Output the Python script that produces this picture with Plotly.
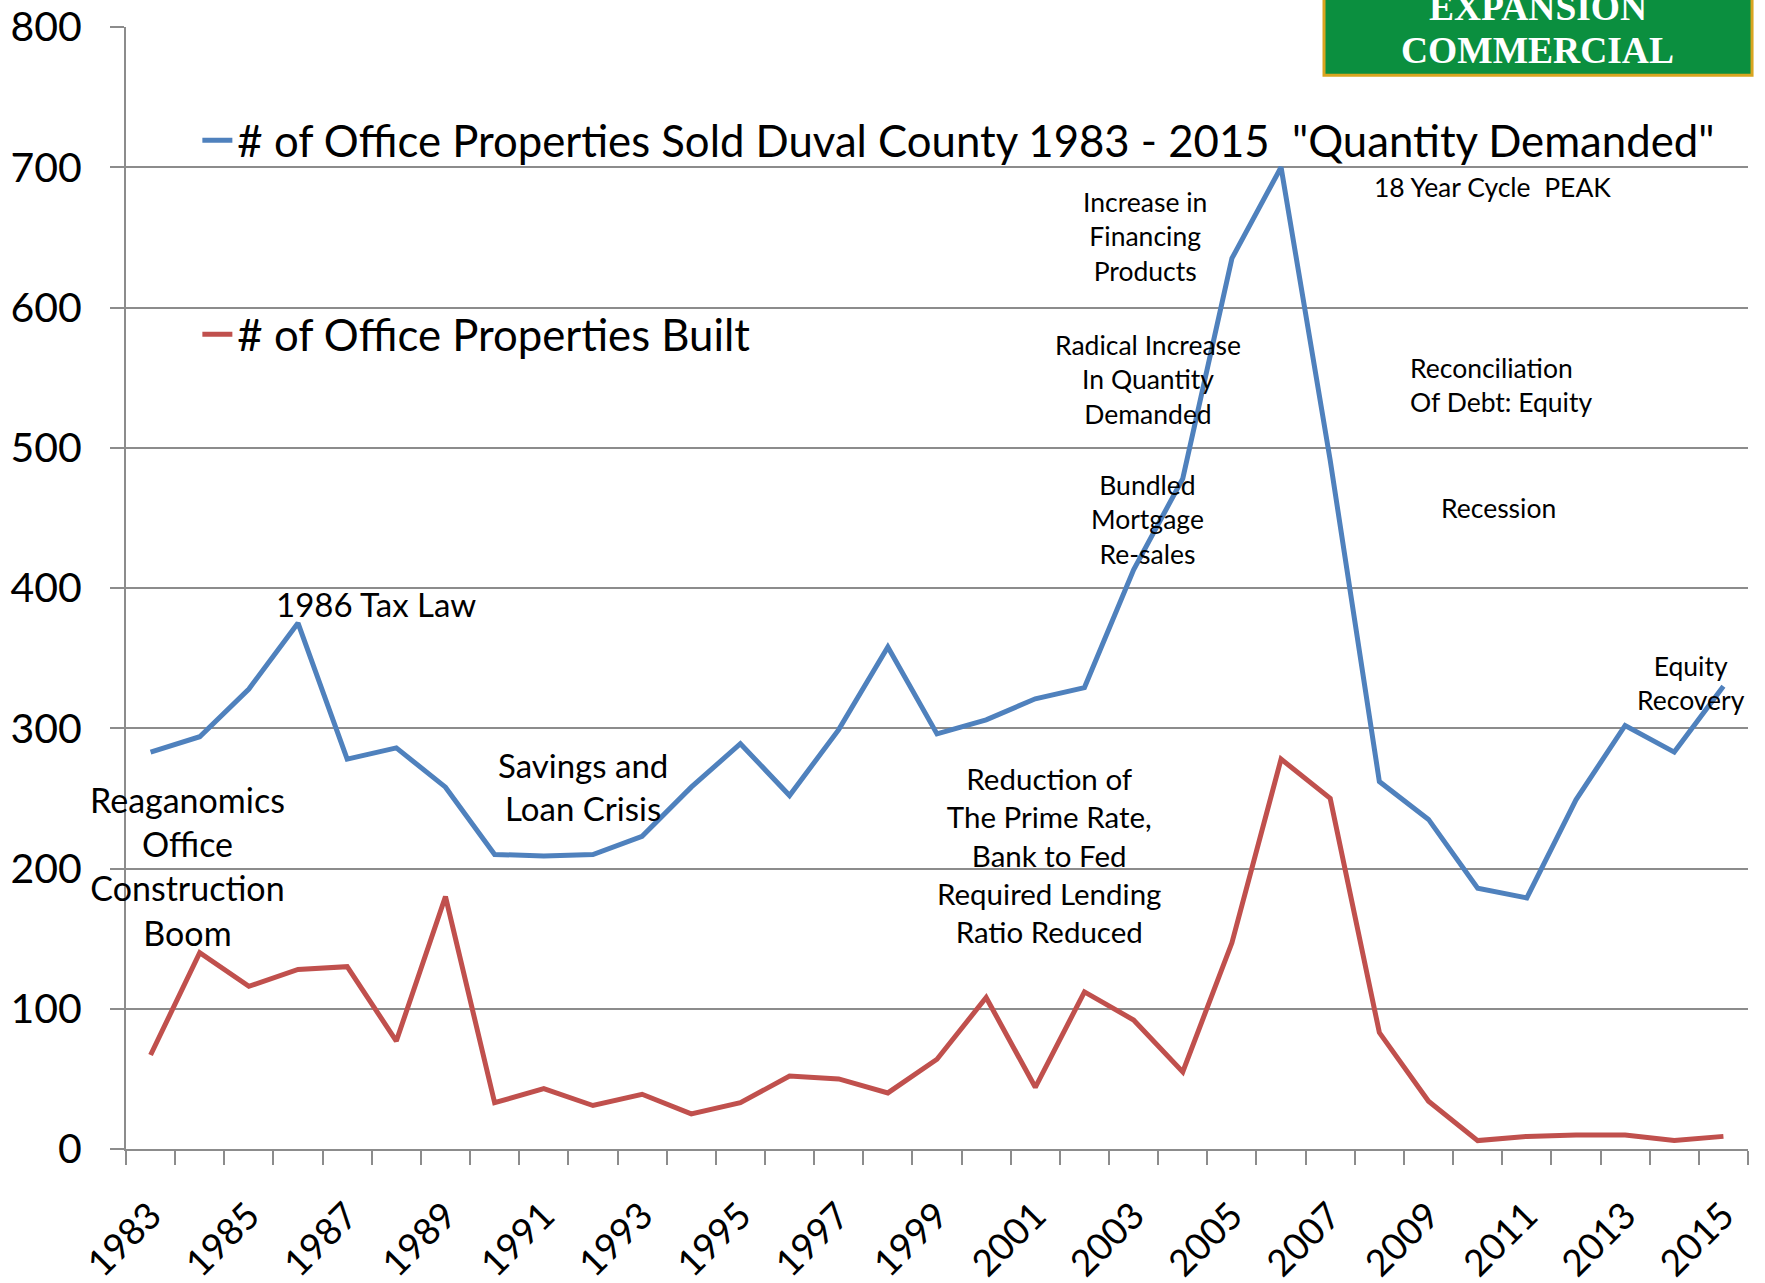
import plotly.graph_objects as go

years = list(range(1983, 2016))
sold = [283, 294, 328, 375, 278, 286, 258, 210, 209, 210, 223, 258, 289, 252, 299,
        358, 296, 306, 321, 329, 413, 478, 635, 700, 491, 262, 235, 186, 179, 249,
        302, 283, 330]
built = [67, 140, 116, 128, 130, 77, 180, 33, 43, 31, 39, 25, 33, 52, 50,
         40, 64, 108, 44, 112, 92, 55, 147, 278, 250, 83, 34, 6, 9, 10,
         10, 6, 9]
sold_name = '# of Office Properties Sold Duval County 1983 - 2015  "Quantity Demanded"'
built_name = '# of Office Properties Built'
tick_years = list(range(1983, 2016, 2))
tick_text = [str(y) for y in tick_years]
boundaries = [y - 0.5 for y in range(1983, 2017)]

FONT = "Lato"
GRID = "#8c8c8c"

fig = go.Figure()
fig.add_trace(go.Scatter(x=years, y=sold, mode="lines", name=sold_name,
                         line=dict(color="#4F81BD", width=5), legend="legend"))
fig.add_trace(go.Scatter(x=years, y=built, mode="lines", name=built_name,
                         line=dict(color="#C0504D", width=5), legend="legend2"))

annots = [
    ("1986 Tax Law", 1987.59, 388.6, 33, "center"),
    ("Reaganomics<br>Office<br>Construction<br>Boom", 1983.76, 202, 34, "center"),
    ("Savings and<br>Loan Crisis", 1991.8, 258.5, 33, "center"),
    ("Reduction of<br>The Prime Rate,<br>Bank to Fed<br>Required Lending<br>Ratio Reduced", 2001.28, 209.6, 29.5, "center"),
    ("Increase in<br>Financing<br>Products", 2003.23, 650.5, 26.5, "center"),
    ("Radical Increase<br>In Quantity<br>Demanded", 2003.29, 549, 26.5, "center"),
    ("Bundled<br>Mortgage<br>Re-sales", 2003.29, 448.5, 26.5, "center"),
    ("18 Year Cycle  PEAK", 2010.31, 686, 26.5, "center"),
    ("Reconciliation<br>Of Debt: Equity", 2008.58, 544.7, 26.5, "left"),
    ("Recession", 2010.43, 457, 26.5, "center"),
    ("Equity<br>Recovery", 2014.34, 332.3, 26.5, "center"),
]
annotations = []
for text, x, y, size, al in annots:
    annotations.append(dict(text=text, x=x, y=y, xref="x", yref="y", showarrow=False,
                            font=dict(family=FONT, size=size, color="black"),
                            align=al, xanchor="left" if al == "left" else "center",
                            yanchor="middle"))

# logo badge
annotations.append(dict(text="<b>EXPANSION</b>", x=0.8705, y=1.0175, xref="paper", yref="paper",
                        showarrow=False, font=dict(family="Liberation Serif", size=37.5, color="white"),
                        xanchor="center", yanchor="middle"))
annotations.append(dict(text="<b>COMMERCIAL</b>", x=0.8705, y=0.9795, xref="paper", yref="paper",
                        showarrow=False, font=dict(family="Liberation Serif", size=37.5, color="white"),
                        xanchor="center", yanchor="middle"))

shapes = [dict(type="rect", xref="paper", yref="paper", x0=0.7386, x1=1.0025, y0=0.957, y1=1.05,
               fillcolor="#0b8f3f", line=dict(color="#d9a520", width=3), layer="above")]

fig.update_layout(
    width=1765, height=1283,
    margin=dict(l=126, r=17, t=27, b=134),
    paper_bgcolor="white", plot_bgcolor="white",
    font=dict(family=FONT, color="black"),
    showlegend=True,
    legend=dict(x=0.044, y=0.899, xanchor="left", yanchor="middle",
                font=dict(family=FONT, size=43.7, color="black"), bgcolor="rgba(0,0,0,0)",
                itemwidth=30),
    legend2=dict(x=0.044, y=0.726, xanchor="left", yanchor="middle",
                 font=dict(family=FONT, size=43.7, color="black"), bgcolor="rgba(0,0,0,0)",
                 itemwidth=30),
    annotations=annotations,
    shapes=shapes,
    xaxis=dict(range=[1982.5, 2015.5], tickmode="array", tickvals=tick_years, ticktext=tick_text,
               tickangle=-45, ticks="", showgrid=False, zeroline=False, automargin=False,
               showline=True, linecolor=GRID, linewidth=2, ticklabeloverflow="allow",
               tickfont=dict(family=FONT, size=37, color="black"),
               ticklabelstandoff=28,
               minor=dict(tickmode="array", tickvals=boundaries, ticks="outside",
                          ticklen=14, tickwidth=2, tickcolor=GRID, showgrid=False)),
    yaxis=dict(range=[0, 800], tickmode="linear", tick0=0, dtick=100, automargin=False,
               ticks="outside", ticklen=14, tickwidth=2, tickcolor=GRID,
               showgrid=True, gridcolor=GRID, gridwidth=2, zeroline=False,
               showline=True, linecolor=GRID, linewidth=2, ticklabeloverflow="allow",
               tickfont=dict(family=FONT, size=41, color="black"),
               ticklabelstandoff=20),
)

# remove the default page margin so the figure fills the window exactly
fig.write_html("out.html", config={"displayModeBar": False},
               post_script="document.body.style.margin='0';")
